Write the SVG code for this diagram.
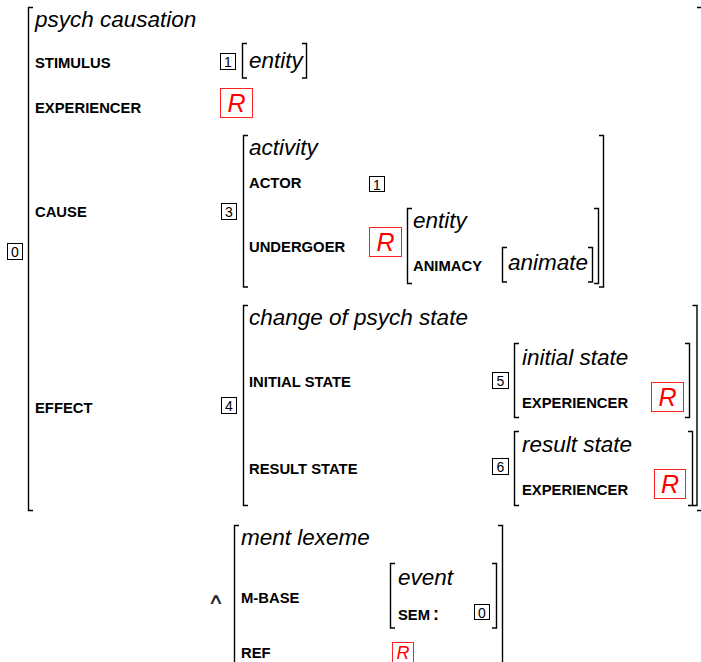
<svg xmlns="http://www.w3.org/2000/svg" width="701" height="662" viewBox="0 0 701 662">
<style>
.br{fill:none;stroke:#000;stroke-width:1.4}
.bx{fill:none;stroke:#000;stroke-width:1}
.rb{fill:none;stroke:#ff2020;stroke-width:1}
.ty{font-family:"Liberation Sans",Arial,sans-serif;font-style:italic;font-size:22.5px;fill:#000}
.lb{font-family:"Liberation Sans",Arial,sans-serif;font-weight:bold;font-size:14.8px;fill:#000}
.nm{font-family:"Liberation Sans",Arial,sans-serif;font-size:14px;fill:#000;text-anchor:middle}
.rr{font-family:"Liberation Sans",Arial,sans-serif;font-style:italic;font-size:25px;fill:#ff0000;text-anchor:middle}
</style>
<rect width="701" height="662" fill="#fff"/>
<g id="avm0">
  <rect class="bx" x="7.5" y="243.5" width="15" height="16"/>
  <text class="nm" x="15" y="257">0</text>
  <path class="br" d="M33 7.5H28.5V510.5H33"/>
  <path class="br" d="M697 7.5H703V510.5H697"/>
  <text class="ty" x="35" y="27">psych causation</text>
  <text class="lb" x="35" y="67.5">STIMULUS</text>
  <text class="lb" x="35" y="113">EXPERIENCER</text>
  <text class="lb" x="35" y="217">CAUSE</text>
  <text class="lb" x="35" y="413">EFFECT</text>
</g>
<g id="stimulus">
  <rect class="bx" x="220.5" y="53.5" width="15" height="16"/>
  <text class="nm" x="228" y="67">1</text>
  <path class="br" d="M247 43.5H242.5V78H247"/>
  <path class="br" d="M302 43.5H306.5V78H302"/>
  <text class="ty" x="249" y="68">entity</text>
</g>
<g id="experiencer">
  <rect class="rb" x="220.5" y="88.5" width="32" height="29"/>
  <text class="rr" x="236.5" y="112">R</text>
</g>
<g id="avm3">
  <rect class="bx" x="221.5" y="203.5" width="15" height="16"/>
  <text class="nm" x="229" y="217">3</text>
  <path class="br" d="M248 135.5H243.5V287H248"/>
  <path class="br" d="M599 135.5H603.5V287H599"/>
  <text class="ty" x="249" y="155">activity</text>
  <text class="lb" x="249" y="188">ACTOR</text>
  <rect class="bx" x="369.5" y="176.5" width="15" height="15"/>
  <text class="nm" x="377" y="189.5">1</text>
  <text class="lb" x="249" y="252">UNDERGOER</text>
  <rect class="rb" x="369.5" y="227.5" width="32" height="29"/>
  <text class="rr" x="385.5" y="251">R</text>
</g>
<g id="undergoer">
  <path class="br" d="M412 208.5H407.5V283.5H412"/>
  <path class="br" d="M594 208.5H598.5V283.5H594"/>
  <text class="ty" x="413" y="228">entity</text>
  <text class="lb" x="413" y="271">ANIMACY</text>
  <path class="br" d="M507 247.5H502.5V282H507"/>
  <path class="br" d="M588 247.5H592.5V282H588"/>
  <text class="ty" x="508" y="270">animate</text>
</g>
<g id="avm4">
  <rect class="bx" x="221.5" y="397.5" width="15" height="16"/>
  <text class="nm" x="229" y="411">4</text>
  <path class="br" d="M248 305.5H243.5V505.5H248"/>
  <path class="br" d="M692.5 305.5H697V505.5H692.5"/>
  <text class="ty" x="249" y="325">change of psych state</text>
  <text class="lb" x="249" y="387">INITIAL STATE</text>
  <text class="lb" x="249" y="474">RESULT STATE</text>
</g>
<g id="avm5">
  <rect class="bx" x="492.5" y="372.5" width="16" height="16"/>
  <text class="nm" x="500.5" y="386">5</text>
  <path class="br" d="M519 343.5H514.5V417.5H519"/>
  <path class="br" d="M685 343.5H689.5V417.5H685"/>
  <text class="ty" x="522" y="365">initial state</text>
  <text class="lb" x="522" y="408">EXPERIENCER</text>
  <rect class="rb" x="651.5" y="382.5" width="32" height="29"/>
  <text class="rr" x="667.5" y="406">R</text>
</g>
<g id="avm6">
  <rect class="bx" x="492.5" y="458.5" width="16" height="16"/>
  <text class="nm" x="500.5" y="472">6</text>
  <path class="br" d="M519 431.5H514.5V505.5H519"/>
  <path class="br" d="M688 431.5H692.5V505.5H688"/>
  <text class="ty" x="522" y="452">result state</text>
  <text class="lb" x="522" y="495">EXPERIENCER</text>
  <rect class="rb" x="654.5" y="469.5" width="31" height="29"/>
  <text class="rr" x="670" y="493">R</text>
</g>
<g id="and">
  <text transform="translate(216 604) scale(1.15 0.75)" x="0" y="0" font-family="'DejaVu Sans',sans-serif" font-size="20" fill="#222" text-anchor="middle">∧</text>
</g>
<g id="ment">
  <path class="br" d="M239 525.5H234.5V680"/>
  <path class="br" d="M498 525.5H502.5V680"/>
  <text class="ty" x="241" y="545">ment lexeme</text>
  <text class="lb" x="241" y="603">M-BASE</text>
  <text class="lb" x="241" y="658">REF</text>
  <rect class="rb" x="392.5" y="642.5" width="21" height="25"/>
  <text class="rr" x="403" y="659" style="font-size:18px">R</text>
</g>
<g id="mbase">
  <path class="br" d="M395 563.5H390.5V628H395"/>
  <path class="br" d="M492 563.5H496.5V628H492"/>
  <text class="ty" x="398" y="585">event</text>
  <text class="lb" x="398" y="620">SEM<tspan dx="3" style="font-size:18px">:</tspan></text>
  <rect class="bx" x="474.5" y="604.5" width="15" height="15"/>
  <text class="nm" x="482" y="617.5">0</text>
</g>
</svg>
